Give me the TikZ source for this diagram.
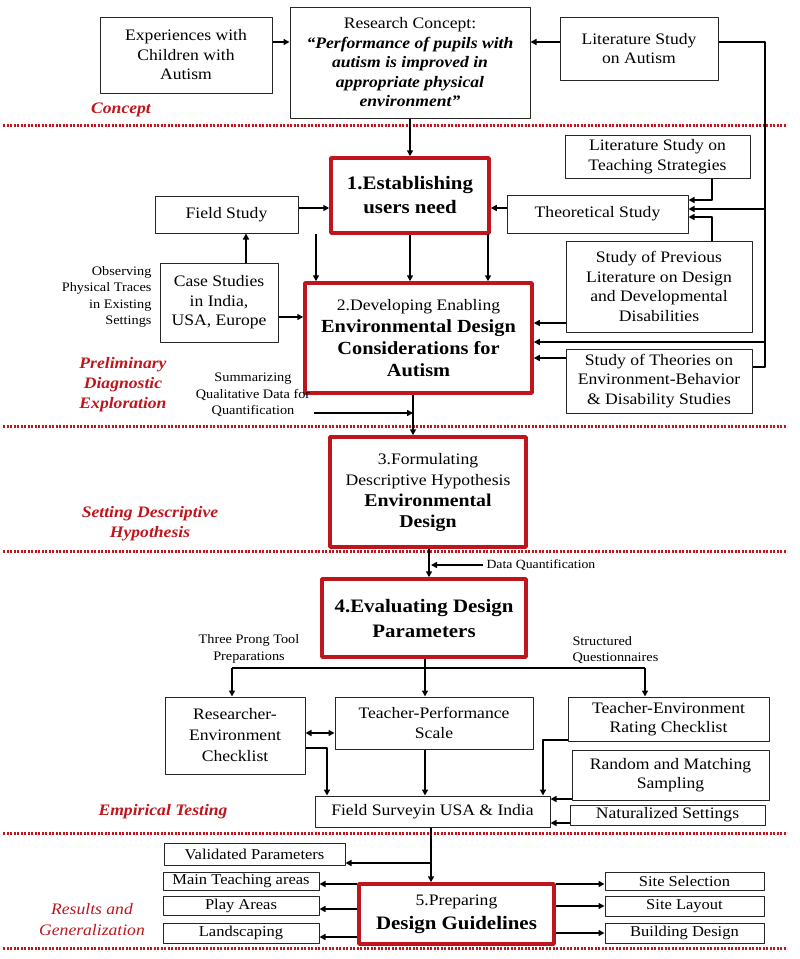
\documentclass[tikz,border=0pt]{standalone}
\usepackage{fontspec}
\setmainfont{Liberation Serif}[FakeStretch=1.1]
\usetikzlibrary{arrows.meta}
\definecolor{dred}{RGB}{190,22,28}
\begin{document}
\begin{tikzpicture}[x=1pt, y=-1pt, line join=round,
	box/.style={draw=black!85, line width=1pt, align=center, inner sep=0pt, font=\fontsize{16}{19.5}\selectfont},
	small/.style={box, font=\fontsize{15}{18}\selectfont},
	redbox/.style={draw=dred, line width=3.5pt, align=center, inner sep=0pt, font=\fontsize{19}{24}\selectfont\bfseries},
	sect/.style={text=dred, align=center, font=\fontsize{16}{20}\selectfont\bfseries\itshape},
	note/.style={align=center, font=\fontsize{13}{16.5}\selectfont},
	arr/.style={-{Triangle[length=6pt,width=6pt]}, line width=2pt},
	darr/.style={{Triangle[length=6pt,width=6pt]}-{Triangle[length=6pt,width=6pt]}, line width=2pt},
	thin/.style={line width=1.2pt},
	sep/.style={dred, line width=3pt, dash pattern=on 2.2pt off 1.3pt}]
	\def\xl{3} \def\xr{787}
	\useasboundingbox (0,0) rectangle (800,959);
	%\draw[gray!30] (0,0) grid[step=50] (800,959);
	\foreach \y in {125,426,551,833,948} \draw[sep] (\xl,\y) -- (\xr,\y);
	% concept
	\node[box, minimum width=172, minimum height=76] (exp) at (186,55) {Experiences with\\Children with\\Autism};
	\node[box, minimum width=240, minimum height=111] (concept) at (410,62.5) {Research Concept:\\\bfseries\itshape “Performance of pupils with\\\bfseries\itshape autism is improved in\\\bfseries\itshape appropriate physical\\\bfseries\itshape environment”};
	\node[box, minimum width=158, minimum height=63] (litA) at (639,48.5) {Literature Study\\on Autism};
	\node[sect] at (121,110) {Concept};
	% preliminary
	\node[redbox, minimum width=158, minimum height=75] (need) at (410,195.5) {1.Establishing\\users need};
	\node[box, minimum width=143, minimum height=37] (field) at (226.5,214.5) {Field Study};
	\node[box, minimum width=181, minimum height=38] (theo) at (597.5,214) {Theoretical Study};
	\node[box, minimum width=185, minimum height=43] (litT) at (657.5,156.5) {Literature Study on\\Teaching Strategies};
	\node[box, minimum width=186, minimum height=91] (prev) at (659,286.5) {Study of Previous\\Literature on Design\\and Developmental\\Disabilities};
	\node[box, minimum width=186, minimum height=64] (theories) at (659,381) {Study of Theories on\\Environment-Behavior\\\& Disability Studies};
	\node[box, minimum width=118, minimum height=79] (case) at (219,302.5) {Case Studies\\in India,\\USA, Europe};
	\node[redbox, minimum width=227, minimum height=110, font=\fontsize{18.5}{22}\selectfont\bfseries] (enable) at (418.5,338) {{\fontsize{16}{22}\selectfont\mdseries 2.Developing Enabling}\\Environmental Design\\Considerations for\\Autism};
	\node[note, align=right, anchor=east] (obs) at (155,297) {Observing\\Physical Traces\\in Existing\\Settings};
	\node[note] (summ) at (253,395) {Summarizing\\Qualitative Data for\\Quantification};
	\node[sect] at (123,385) {Preliminary\\Diagnostic\\Exploration};
	\draw[arr] (exp.east |- 0,42) -- (concept.west |- 0,42);
	\draw[arr] (litA.west |- 0,42) -- (concept.east |- 0,42);
	\draw[thin] (litA.east |- 0,42) -| (765,367) -- (theories.east |- 0,367);
	\draw[arr] (concept.south) -- (need.north);
	\draw[arr] (field.east |- 0,208) -- (need.west |- 0,208);
	\draw[arr] (theo.west |- 0,208) -- (need.east |- 0,208);
	\draw[arr] (litT.south -| 712,0) |- (theo.east |- 0,200);
	\draw[arr] (765,209) -- (theo.east |- 0,209);
	\draw[arr] (prev.north -| 712,0) |- (theo.east |- 0,217);
	\draw[arr] (case.north -| 246,0) -- (field.south -| 246,0);
	\draw[arr] (case.east |- 0,317) -- (enable.west |- 0,317);
	\draw[arr] (field.south -| 316,0) -- (enable.north -| 316,0);
	\draw[arr] (need.south -| 410,0) -- (enable.north -| 410,0);
	\draw[arr] (theo.south -| 488,0) -- (enable.north -| 488,0);
	\draw[arr] (prev.west |- 0,323) -- (enable.east |- 0,323);
	\draw[arr] (765,342) -- (enable.east |- 0,342);
	\draw[arr] (theories.west |- 0,358) -- (enable.east |- 0,358);
	\draw[arr] (summ.east |- 0,413) -- (413,413);
	% hypothesis
	\node[redbox, minimum width=196, minimum height=110, font=\fontsize{16}{21}\selectfont] (hypo) at (428,492) {3.Formulating\\Descriptive Hypothesis\\\fontsize{18}{22}\selectfont\bfseries Environmental\\\fontsize{18}{22}\selectfont\bfseries Design};
	\node[sect] at (150,524) {Setting Descriptive\\Hypothesis};
	\draw[arr] (enable.south -| 413,0) -- (hypo.north -| 413,0);
	% empirical
	\node[redbox, minimum width=204, minimum height=78, font=\fontsize{19}{25}\selectfont\bfseries] (evaluate) at (424,618) {4.Evaluating Design\\Parameters};
	\node[note, font=\fontsize{12.5}{15}\selectfont, anchor=west] (dq) at (483,565) {Data Quantification};
	\node[note] (prong) at (249,649) {Three Prong Tool\\Preparations};
	\node[note, align=left, anchor=west] (quest) at (569,650) {Structured\\Questionnaires};
	\node[box, minimum width=140, minimum height=77, font=\fontsize{16}{21}\selectfont] (researcher) at (235,735.5) {Researcher-\\Environment\\Checklist};
	\node[box, minimum width=198, minimum height=52] (teacherP) at (434,723) {Teacher-Performance\\Scale};
	\node[box, minimum width=201, minimum height=44] (teRating) at (668.5,719) {Teacher-Environment\\Rating Checklist};
	\node[box, minimum width=197, minimum height=50] (random) at (670.5,775) {Random and Matching\\Sampling};
	\node[box, minimum width=195, minimum height=20] (natural) at (667.5,815) {Naturalized Settings};
	\node[box, minimum width=235, minimum height=31] (survey) at (432.5,811.5) {Field Surveyin USA \& India};
	\node[sect] at (163,812) {Empirical Testing};
	\draw[arr] (hypo.south -| 429,0) -- (evaluate.north -| 429,0);
	\draw[arr] (dq.west) -- (431,565);
	\draw[thin] (232,668) -- (645,668);
	\draw[arr] (evaluate.south -| 425,0) -- (teacherP.north -| 425,0);
	\draw[arr] (232,668) -- (researcher.north -| 232,0);
	\draw[arr] (645,668) -- (teRating.north -| 645,0);
	\draw[darr] (researcher.east |- 0,733) -- (teacherP.west |- 0,733);
	\draw[arr] (researcher.east |- 0,748) -| (survey.north -| 327,0);
	\draw[arr] (teacherP.south -| 425,0) -- (survey.north -| 425,0);
	\draw[arr] (teRating.west |- 0,740) -| (survey.north -| 543,0);
	\draw[arr] (random.west |- 0,799) -- (survey.east |- 0,799);
	\draw[arr] (natural.west |- 0,823) -- (survey.east |- 0,823);
	% results
	\node[redbox, minimum width=195, minimum height=60, font=\fontsize{19}{24}\selectfont\bfseries] (guide) at (456.5,914) {{\fontsize{16}{24}\selectfont\mdseries 5.Preparing}\\Design Guidelines};
	\node[small, minimum width=181, minimum height=22] (valid) at (254.5,854) {Validated Parameters};
	\node[small, minimum width=156, minimum height=18] (mainT) at (241,881) {Main Teaching areas};
	\node[small, minimum width=156, minimum height=19] (play) at (241,906) {Play Areas};
	\node[small, minimum width=156, minimum height=20] (landsc) at (241,933) {Landscaping};
	\node[small, minimum width=159, minimum height=18] (siteSel) at (684.5,881) {Site Selection};
	\node[small, minimum width=159, minimum height=20] (siteLay) at (684.5,906) {Site Layout};
	\node[small, minimum width=159, minimum height=20] (building) at (684.5,933) {Building Design};
	\node[sect, font=\fontsize{16}{21}\selectfont\itshape] at (92,920) {Results and\\Generalization};
	\draw[arr] (survey.south -| 431,0) -- (guide.north -| 431,0);
	\draw[arr] (431,863) -- (valid.east |- 0,863);
	\draw[arr] (guide.west |- 0,884) -- (mainT.east |- 0,884);
	\draw[arr] (guide.west |- 0,909) -- (play.east |- 0,909);
	\draw[arr] (guide.west |- 0,937) -- (landsc.east |- 0,937);
	\draw[arr] (guide.east |- 0,884) -- (siteSel.west |- 0,884);
	\draw[arr] (guide.east |- 0,906) -- (siteLay.west |- 0,906);
	\draw[arr] (guide.east |- 0,933) -- (building.west |- 0,933);
\end{tikzpicture}
\end{document}
